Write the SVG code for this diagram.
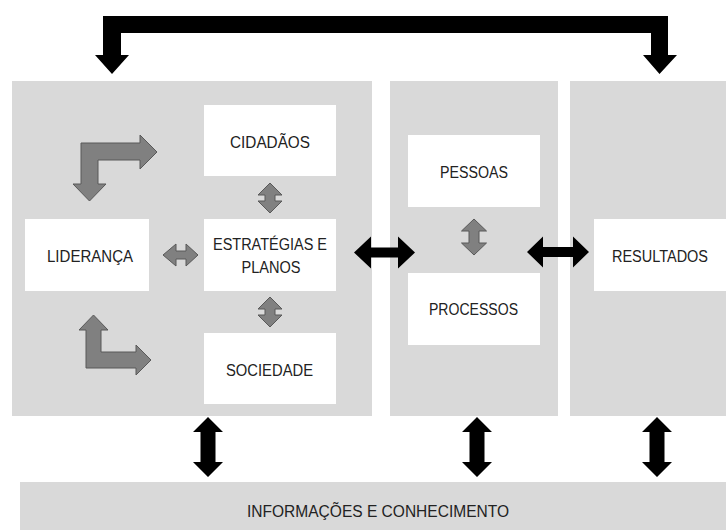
<svg xmlns="http://www.w3.org/2000/svg" width="726" height="530" viewBox="0 0 726 530">
<style>
.panel{fill:#d9d9d9}
.box{fill:#ffffff}
.t{font-family:"Liberation Sans",Arial,sans-serif;font-size:16px;fill:#222222;text-anchor:middle}
.blk{fill:#000000}
.gry{fill:#808080;stroke:#595959;stroke-width:1}
</style>
<rect width="726" height="530" fill="#ffffff"/>
<g id="panels">
<rect id="panel-left" class="panel" x="12" y="81" width="360" height="335"/>
<rect id="panel-mid" class="panel" x="390" y="81" width="168" height="335"/>
<rect id="panel-right" class="panel" x="570" y="81" width="156" height="335"/>
</g>
<g id="node-informacoes">
<rect class="panel" x="20" y="482" width="706" height="48"/>
<text class="t" x="378" y="517" textLength="262" lengthAdjust="spacingAndGlyphs">INFORMAÇÕES E CONHECIMENTO</text>
</g>
<g id="node-cidadaos">
<rect class="box" x="204" y="105" width="132" height="71"/>
<text class="t" x="270" y="148" textLength="80" lengthAdjust="spacingAndGlyphs">CIDADÃOS</text>
</g>
<g id="node-estrategias">
<rect class="box" x="204" y="219" width="132" height="72"/>
<text class="t" x="270" y="250" textLength="114" lengthAdjust="spacingAndGlyphs">ESTRATÉGIAS E</text>
<text class="t" x="271" y="273" textLength="59" lengthAdjust="spacingAndGlyphs">PLANOS</text>
</g>
<g id="node-sociedade">
<rect class="box" x="204" y="333" width="132" height="71"/>
<text class="t" x="269.5" y="376" textLength="87" lengthAdjust="spacingAndGlyphs">SOCIEDADE</text>
</g>
<g id="node-lideranca">
<rect class="box" x="25" y="219" width="124" height="72"/>
<text class="t" x="90" y="262" textLength="86" lengthAdjust="spacingAndGlyphs">LIDERANÇA</text>
</g>
<g id="node-pessoas">
<rect class="box" x="408" y="135" width="132" height="72"/>
<text class="t" x="474" y="178" textLength="68" lengthAdjust="spacingAndGlyphs">PESSOAS</text>
</g>
<g id="node-processos">
<rect class="box" x="408" y="273" width="132" height="72"/>
<text class="t" x="473.5" y="315" textLength="89" lengthAdjust="spacingAndGlyphs">PROCESSOS</text>
</g>
<g id="node-resultados">
<rect class="box" x="594" y="219" width="132" height="72"/>
<text class="t" x="660" y="262" textLength="96" lengthAdjust="spacingAndGlyphs">RESULTADOS</text>
</g>
<g id="connectors">
<polygon class="blk" points="103,16 668,16 668,55 677,55 659.5,74 643,55 651,55 651,33 121,33 121,55 129,55 112,74 95,55 103,55"/>
<polygon class="gry" points="81,143 140,143 140,135 157,152 140,169 140,160 98,160 98,184 106,184 89.5,201 73,184 81,184"/>
<polygon class="gry" points="93.5,315 108,330 101,330 101,352 136,352 136,345 151,360 136,375 136,368 86,368 86,330 79,330"/>
<polygon class="gry" points="270,183 282,195 275,195 275,201 282,201 270,213 258,201 265,201 265,195 258,195"/>
<polygon class="gry" points="270,297 282,309 275,309 275,315 282,315 270,327 258,315 265,315 265,309 258,309"/>
<polygon class="gry" points="474,219 486.5,231 479,231 479,243 486.5,243 474,255 461.5,243 469,243 469,231 461.5,231"/>
<polygon class="gry" points="163,255 176,244 176,251 186,251 186,244 198,255 186,266 186,259 176,259 176,266"/>
<polygon class="blk" points="354,252.5 371,236.5 371,247.5 398,247.5 398,236.5 415,252.5 398,268.5 398,257.5 371,257.5 371,268.5"/>
<polygon class="blk" points="527,252 543,236.5 543,247 573,247 573,236.5 589,252 573,267.5 573,257 543,257 543,267.5"/>
<polygon class="blk" points="208,417 223,432 215.5,432 215.5,462 223,462 208,477 193,462 200.5,462 200.5,432 193,432"/>
<polygon class="blk" points="477,417 492,432 484.5,432 484.5,462 492,462 477,477 462,462 469.5,462 469.5,432 462,432"/>
<polygon class="blk" points="657,417 672,432 664.5,432 664.5,462 672,462 657,477 642,462 649.5,462 649.5,432 642,432"/>
</g>
</svg>
